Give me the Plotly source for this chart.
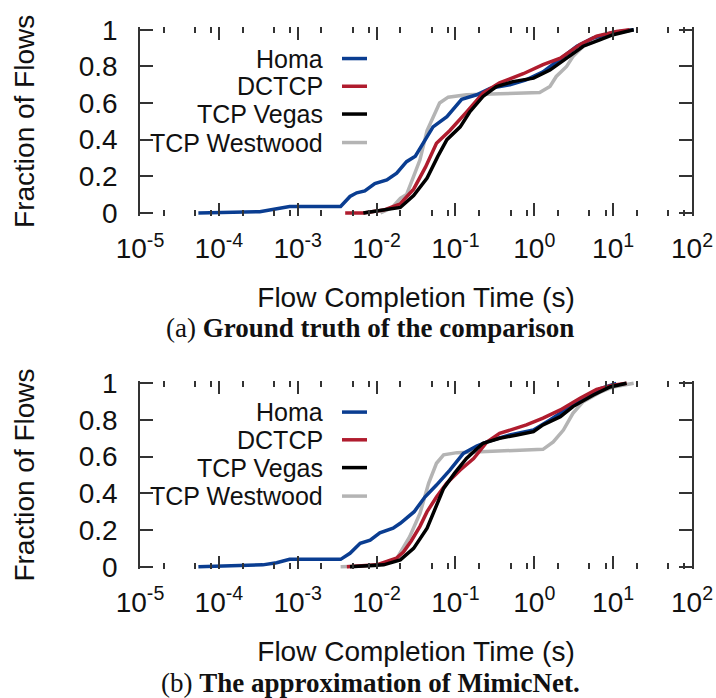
import plotly.graph_objects as go

# ---------------- data ----------------
series_names = ["Homa", "DCTCP", "TCP Vegas", "TCP Westwood"]

# (a) ground truth
homa_a_x = [5.5e-5, 3.3e-4, 5.0e-4, 7.9e-4, 3.5e-3, 4.6e-3, 5.6e-3, 7.1e-3, 9.5e-3, 0.0135, 0.018,
            0.024, 0.031, 0.039, 0.044, 0.052, 0.078, 0.12, 0.186, 0.275, 0.49, 0.79, 1.29, 2.34,
            3.47, 5.6, 10, 18.2]
homa_a_y = [0, 0.007, 0.02, 0.035, 0.035, 0.09, 0.11, 0.12, 0.16, 0.18, 0.217,
            0.28, 0.31, 0.38, 0.42, 0.47, 0.526, 0.62, 0.645, 0.68, 0.70, 0.727, 0.77, 0.854,
            0.91, 0.955, 0.985, 1.0]
dctcp_a_x = [0.004, 0.0068, 0.0123, 0.020, 0.0295, 0.0417, 0.0575, 0.085, 0.138, 0.224, 0.363,
             0.724, 1.29, 2.14, 3.8, 6.17, 11, 16.2]
dctcp_a_y = [0, 0.0, 0.016, 0.05, 0.13, 0.25, 0.38, 0.45, 0.55, 0.654, 0.71,
             0.76, 0.81, 0.845, 0.92, 0.965, 0.99, 1.0]
vegas_a_x = [0.0068, 0.0123, 0.020, 0.0295, 0.0437, 0.060, 0.078, 0.115, 0.151, 0.224, 0.331,
             0.537, 0.977, 1.58, 2.57, 4.17, 6.76, 10, 18.2]
vegas_a_y = [0, 0.016, 0.03, 0.095, 0.19, 0.31, 0.40, 0.47, 0.55, 0.636, 0.69,
             0.717, 0.736, 0.78, 0.845, 0.91, 0.945, 0.973, 1.0]
westwood_a_x = [0.0112, 0.0158, 0.020, 0.024, 0.0295, 0.0355, 0.0437, 0.0525, 0.063, 0.081, 0.138,
                0.363, 1.17, 1.58, 1.9, 2.57, 3.09, 4.17, 6.76, 10, 18.2]
westwood_a_y = [0, 0.03, 0.08, 0.10, 0.20, 0.29, 0.45, 0.526, 0.60, 0.632, 0.645,
                0.65, 0.657, 0.69, 0.745, 0.80, 0.854, 0.91, 0.95, 0.98, 1.0]

# (b) MimicNet approximation
homa_b_x = [5.5e-5, 3.6e-4, 5.4e-4, 7.9e-4, 3.5e-3, 4.6e-3, 6.2e-3, 8.3e-3, 0.011, 0.0162, 0.020,
            0.030, 0.041, 0.0575, 0.085, 0.126, 0.186, 0.275, 0.49, 0.977, 1.58, 2.57, 4.57,
            6.76, 11]
homa_b_y = [0, 0.01, 0.022, 0.04, 0.04, 0.073, 0.128, 0.145, 0.185, 0.21, 0.237,
            0.30, 0.38, 0.445, 0.527, 0.618, 0.658, 0.687, 0.718, 0.745, 0.80, 0.86, 0.924,
            0.97, 1.0]
dctcp_b_x = [0.0042, 0.01, 0.0178, 0.0219, 0.0275, 0.0355, 0.0437, 0.0575, 0.0776, 0.115, 0.17,
             0.251, 0.363, 0.794, 1.29, 2.14, 3.8, 6.17, 10, 14.8]
dctcp_b_y = [0, 0.01, 0.046, 0.08, 0.14, 0.22, 0.30, 0.38, 0.455, 0.527, 0.59,
             0.68, 0.727, 0.773, 0.81, 0.855, 0.918, 0.967, 0.99, 1.0]
vegas_b_x = [0.0046, 0.0123, 0.020, 0.0295, 0.0437, 0.0575, 0.0708, 0.0977, 0.138, 0.224, 0.363,
             0.603, 0.977, 1.29, 2.14, 3.09, 5.62, 9.12, 14.8]
vegas_b_y = [0, 0.01, 0.037, 0.10, 0.21, 0.327, 0.427, 0.51, 0.59, 0.673, 0.70,
             0.718, 0.736, 0.773, 0.818, 0.873, 0.936, 0.98, 1.0]
westwood_b_x = [0.0035, 0.01, 0.0178, 0.0263, 0.0355, 0.0457, 0.0575, 0.0708, 0.105, 0.363, 1.29,
                1.74, 2.34, 3.09, 4.17, 6.76, 10, 18.2]
westwood_b_y = [0, 0.005, 0.04, 0.164, 0.29, 0.455, 0.564, 0.61, 0.622, 0.63, 0.64,
                0.68, 0.745, 0.836, 0.90, 0.95, 0.98, 1.0]

x_tick_vals = [1e-5, 1e-4, 1e-3, 1e-2, 1e-1, 1e0, 1e1, 1e2]
x_tick_text = ["10<sup>-5</sup>", "10<sup>-4</sup>", "10<sup>-3</sup>", "10<sup>-2</sup>",
               "10<sup>-1</sup>", "10<sup>0</sup>", "10<sup>1</sup>", "10<sup>2</sup>"]
x_minor_vals = [2e-5, 5e-5, 8e-5, 2e-4, 5e-4, 8e-4, 2e-3, 5e-3, 8e-3, 2e-2, 5e-2, 8e-2,
                2e-1, 5e-1, 8e-1, 2, 5, 8, 20, 50, 80]
y_tick_vals = [0, 0.2, 0.4, 0.6, 0.8, 1]
y_tick_text = ["0", "0.2", "0.4", "0.6", "0.8", "1"]

captions = ["(a) <b>Ground truth of the comparison</b>", "(b) <b>The approximation of MimicNet.</b>"]
x_title = "Flow Completion Time (s)"
y_title = "Fraction of Flows"

# ---------------- style ----------------
colors = {"Homa": "#0a3d91", "DCTCP": "#b01c2e", "TCP Vegas": "#000000", "TCP Westwood": "#b4b4b4"}
SANS = "Liberation Sans, Arial, sans-serif"
SERIF = "Liberation Serif, Times New Roman, serif"
AX = "#333333"
LW = 3.5

W, H = 716, 698
ML, MR, MT, MB = 140, 24, 27, 128
PH = H - MT - MB  # plot-area height in px

panels = [
    {"xa": "x", "ya": "y",
     "data": {"Homa": (homa_a_x, homa_a_y), "DCTCP": (dctcp_a_x, dctcp_a_y),
              "TCP Vegas": (vegas_a_x, vegas_a_y), "TCP Westwood": (westwood_a_x, westwood_a_y)}},
    {"xa": "x2", "ya": "y2",
     "data": {"Homa": (homa_b_x, homa_b_y), "DCTCP": (dctcp_b_x, dctcp_b_y),
              "TCP Vegas": (vegas_b_x, vegas_b_y), "TCP Westwood": (westwood_b_x, westwood_b_y)}},
]

fig = go.Figure()
draw_order = ["TCP Westwood", "Homa", "DCTCP", "TCP Vegas"]
for p in panels:
    for name in draw_order:
        xs, ys = p["data"][name]
        fig.add_trace(go.Scatter(x=xs, y=ys, mode="lines", name=name, showlegend=False,
                                 line=dict(color=colors[name], width=LW),
                                 xaxis=p["xa"], yaxis=p["ya"]))

def pxy(py):
    return (H - MB - py) / PH

top_dom = [pxy(215.7), pxy(27)]
bot_dom = [pxy(569.45), pxy(380.55)]

def xaxis_cfg(anchor):
    return dict(type="log", range=[-5, 2], domain=[0, 1], anchor=anchor, automargin=False,
                tickvals=x_tick_vals, ticktext=x_tick_text, ticks="inside", ticklen=13,
                tickwidth=1.5, tickcolor=AX, showline=True, linecolor="rgba(0,0,0,0)",
                mirror="ticks", showgrid=False, zeroline=False,
                minor=dict(tickvals=x_minor_vals, ticks="inside", ticklen=6, tickwidth=1.5,
                           tickcolor=AX, showgrid=False),
                tickfont=dict(family=SANS, size=28, color="#111"), ticklabelstandoff=8,
                title=dict(text=x_title, font=dict(family=SANS, size=28, color="#111"), standoff=24))

def yaxis_cfg(anchor, dom):
    return dict(range=[-0.015, 1.015], domain=dom, anchor=anchor, automargin=False,
                tickvals=y_tick_vals, ticktext=y_tick_text, ticks="inside", ticklen=13,
                tickwidth=1.5, tickcolor=AX, showline=True, linecolor=AX, linewidth=1.5,
                mirror="ticks", showgrid=False, zeroline=False,
                tickfont=dict(family=SANS, size=28, color="#111"), ticklabelstandoff=15,
                title=dict(text=y_title, font=dict(family=SANS, size=28, color="#111"), standoff=36))

fig.update_layout(
    width=W, height=H, margin=dict(l=ML, r=MR, t=MT, b=MB, autoexpand=False),
    paper_bgcolor="white", plot_bgcolor="white", showlegend=False,
    xaxis=xaxis_cfg("y"), yaxis=yaxis_cfg("x", top_dom),
    xaxis2=xaxis_cfg("y2"), yaxis2=yaxis_cfg("x2", bot_dom),
)

# custom legend (text right-aligned, sample line on the right)
row_offsets = [28.8, 56.5, 84.3, 112.8]
text_right = (325 - ML) / (W - ML - MR)
line_x0 = (342 - ML) / (W - ML - MR)
line_x1 = (367 - ML) / (W - ML - MR)
for p, dom in zip(panels, [top_dom, bot_dom]):
    hpx = (dom[1] - dom[0]) * PH
    for name, off in zip(series_names, row_offsets):
        yd = 1 - (2.75 + off) / hpx
        fig.add_annotation(x=text_right, y=yd, xref=p["xa"] + " domain", yref=p["ya"] + " domain",
                           text=name, showarrow=False, xanchor="right", yanchor="middle",
                           font=dict(family=SANS, size=25, color="#111"))
        fig.add_shape(type="line", x0=line_x0, x1=line_x1, y0=yd, y1=yd,
                      xref=p["xa"] + " domain", yref=p["ya"] + " domain",
                      line=dict(color=colors[name], width=LW))

# captions
for cap, py in zip(captions, [328, 683]):
    fig.add_annotation(x=(370 - ML) / (W - ML - MR), y=pxy(py), xref="paper", yref="paper",
                       text=cap, showarrow=False, xanchor="center", yanchor="middle",
                       font=dict(family=SERIF, size=27, color="#111"))

# remove the browser's default 8px page margin so the figure sits at the window origin
fig.write_html("out.html", config={"displayModeBar": False},
               post_script="document.body.style.margin='0';")
